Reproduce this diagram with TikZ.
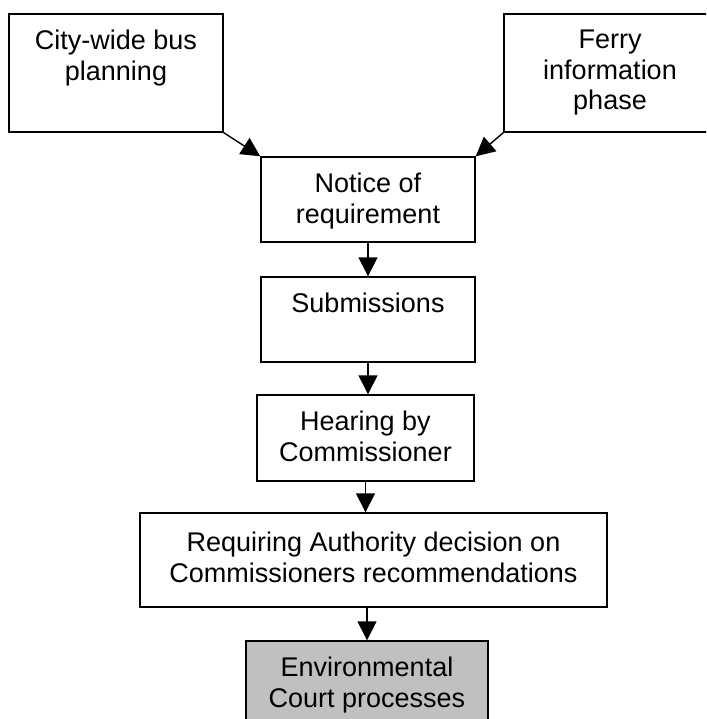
\documentclass[tikz,border=0pt]{standalone}
\usepackage{fontspec}
\setmainfont{Liberation Sans}
\usepackage{xcolor}
\usetikzlibrary{arrows.meta}
\definecolor{courtgrey}{RGB}{192,192,192}
\tikzset{
  stage/.style={draw, line width=1.4pt, inner sep=0pt},
  stagetext/.style={anchor=north, align=center, inner sep=0pt, font=\fontsize{27}{30.5}\selectfont, yshift=-16.5pt},
  flow/.style={line width=1.4pt, -{Triangle[length=19pt,width=19pt]}}
}

\begin{document}
\begin{tikzpicture}[x=1pt, y=-1pt]
        \clip (0,0) rectangle (706,719);
        \node (city) [stage, minimum width=214pt, minimum height=118pt] at (116,73) {};
        \node (city text) [stagetext] at (city.north) {City-wide bus\\planning};
        \node (ferry) [stage, minimum width=208pt, minimum height=118pt] at (608,73) {};
        \node (ferry text) [stagetext, xshift=2pt] at (ferry.north) {Ferry\\information\\phase};

        \node (notice) [stage, minimum width=214pt, minimum height=85pt] at (368,199.5) {};
        \node (notice text) [stagetext] at (notice.north) {Notice of\\requirement};
        \draw [flow] (city.south east) -- (notice.north west);
        \draw [flow] (ferry.south west) -- (notice.north east);

        \node (subm) [stage, minimum width=214pt, minimum height=85pt] at (368,319.5) {};
        \node (subm text) [stagetext] at (subm.north) {Submissions};
        \draw [flow] (notice.south) -- (subm.north);

        \node (hearing) [stage, minimum width=217pt, minimum height=86pt] at (365.5,438) {};
        \node (hearing text) [stagetext] at (hearing.north) {Hearing by\\Commissioner};
        \draw [flow] (subm.south) -- (subm.south |- hearing.north);

        \node (decision) [stage, minimum width=467pt, minimum height=94pt] at (373.5,560) {};
        \node (decision text) [stagetext, yshift=-3pt] at (decision.north) {Requiring Authority decision on\\Commissioners recommendations};
        \draw [flow] (hearing.south) -- (hearing.south |- decision.north);

        \node (court) [stage, fill=courtgrey, minimum width=242pt, minimum height=104pt] at (367,693) {};
        \node (court text) [stagetext] at (court.north) {Environmental\\Court processes};
        \draw [flow] (court.north |- decision.south) -- (court.north);
\end{tikzpicture}
\end{document}
